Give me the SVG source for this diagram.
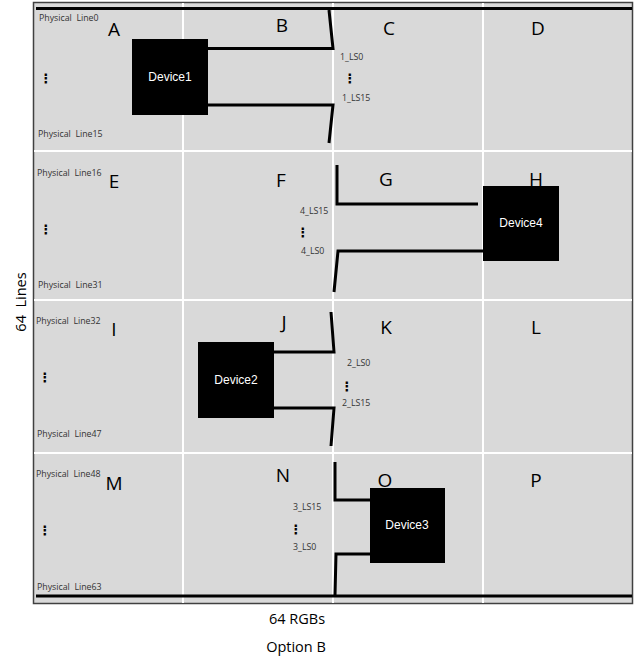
<svg xmlns="http://www.w3.org/2000/svg" width="634" height="659" viewBox="0 0 634 659">
<style>
.grid{stroke:#ffffff;stroke-width:2;fill:none}
.bus{stroke:#000;stroke-width:3;fill:none}
.wire{stroke:#000;stroke-width:3;fill:none;stroke-linejoin:miter}
.dev{fill:#000}
.devt{font-family:"Liberation Sans",Arial,sans-serif;font-size:12px;fill:#fff;text-anchor:middle}
.cell{font-family:"Open Sans","Liberation Sans",sans-serif;font-size:19px;fill:#000;text-anchor:middle}
.pl{font-family:"Open Sans","Liberation Sans",sans-serif;font-size:8.8px;fill:#333}
.ls{font-family:"Open Sans","Liberation Sans",sans-serif;font-size:8.8px;fill:#333}
.dots{font-family:"DejaVu Sans",sans-serif;font-size:13px;font-weight:bold;fill:#000;text-anchor:middle}
.ax{font-family:"Open Sans","Liberation Sans",sans-serif;font-size:14.5px;fill:#000;text-anchor:middle}
</style>
<rect x="0" y="0" width="634" height="659" fill="#fff"/>
<g id="frame">
<rect x="33.5" y="2.5" width="599" height="601" fill="#d9d9d9" stroke="#404040" stroke-width="1.5"/>
<line class="grid" x1="183" y1="3" x2="183" y2="603"/>
<line class="grid" x1="333" y1="3" x2="333" y2="603"/>
<line class="grid" x1="483" y1="3" x2="483" y2="603"/>
<line class="grid" x1="34" y1="151" x2="632" y2="151"/>
<line class="grid" x1="34" y1="300" x2="632" y2="300"/>
<line class="grid" x1="34" y1="453" x2="632" y2="453" stroke-width="3"/>
<line class="bus" x1="36" y1="8.5" x2="632" y2="8.5"/>
<line class="bus" x1="36" y1="596" x2="632" y2="596"/>
</g>
<g id="cell-labels">
<text class="cell" x="114" y="36">A</text>
<text class="cell" x="282" y="32">B</text>
<text class="cell" x="389" y="35">C</text>
<text class="cell" x="538" y="35">D</text>
<text class="cell" x="114" y="188">E</text>
<text class="cell" x="281" y="187">F</text>
<text class="cell" x="386" y="186">G</text>
<text class="cell" x="536" y="186">H</text>
<text class="cell" x="114" y="336">I</text>
<text class="cell" x="284" y="329">J</text>
<text class="cell" x="386" y="334">K</text>
<text class="cell" x="536" y="334">L</text>
<text class="cell" x="114" y="490">M</text>
<text class="cell" x="283" y="482">N</text>
<text class="cell" x="385" y="487">O</text>
<text class="cell" x="536" y="487">P</text>
</g>
<g id="physical-lines">
<text class="pl" x="39" y="21" xml:space="preserve">Physical  Line0</text>
<text class="dots" x="46" y="83">⋮</text>
<text class="pl" x="38" y="137" xml:space="preserve">Physical  Line15</text>
<text class="pl" x="37" y="176" xml:space="preserve">Physical  Line16</text>
<text class="dots" x="46" y="234">⋮</text>
<text class="pl" x="38" y="288" xml:space="preserve">Physical  Line31</text>
<text class="pl" x="36" y="324" xml:space="preserve">Physical  Line32</text>
<text class="dots" x="45" y="382">⋮</text>
<text class="pl" x="37" y="437" xml:space="preserve">Physical  Line47</text>
<text class="pl" x="36" y="477" xml:space="preserve">Physical  Line48</text>
<text class="dots" x="45" y="535">⋮</text>
<text class="pl" x="37" y="590" xml:space="preserve">Physical  Line63</text>
</g>
<g id="connectors">
<polyline class="wire" points="208,48.5 333,48.5 329,10"/>
<polyline class="wire" points="208,105 333,105 329,143"/>
<polyline class="wire" points="337,165 337,204 478,204"/>
<polyline class="wire" points="483,251 338,251 334,292"/>
<polyline class="wire" points="274,352 334,352 331,312"/>
<polyline class="wire" points="274,408 334,408 331,446"/>
<polyline class="wire" points="335,462 335,500 370,500"/>
<polyline class="wire" points="370,554 336,554 335,595"/>
</g>
<g id="device1">
<rect class="dev" x="132" y="39" width="76" height="76"/>
<text class="devt" x="170" y="81">Device1</text>
<text class="ls" x="340" y="60">1_LS0</text>
<text class="dots" x="350" y="83">⋮</text>
<text class="ls" x="342" y="101">1_LS15</text>
</g>
<g id="device4">
<rect class="dev" x="483" y="186" width="76" height="75"/>
<text class="devt" x="521" y="227">Device4</text>
<text class="ls" x="300" y="214">4_LS15</text>
<text class="dots" x="303" y="237">⋮</text>
<text class="ls" x="301" y="254">4_LS0</text>
</g>
<g id="device2">
<rect class="dev" x="198" y="342" width="76" height="76"/>
<text class="devt" x="236" y="384">Device2</text>
<text class="ls" x="347" y="366">2_LS0</text>
<text class="dots" x="347" y="391">⋮</text>
<text class="ls" x="342" y="406">2_LS15</text>
</g>
<g id="device3">
<rect class="dev" x="370" y="488" width="75" height="75"/>
<text class="devt" x="407" y="529">Device3</text>
<text class="ls" x="293" y="510">3_LS15</text>
<text class="dots" x="296" y="534">⋮</text>
<text class="ls" x="293" y="550">3_LS0</text>
</g>
<g id="axes">
<text class="ax" transform="translate(26,302) rotate(-90)" xml:space="preserve">64  Lines</text>
<text class="ax" x="297" y="624">64 RGBs</text>
<text class="ax" x="296" y="652">Option B</text>
</g>
</svg>
